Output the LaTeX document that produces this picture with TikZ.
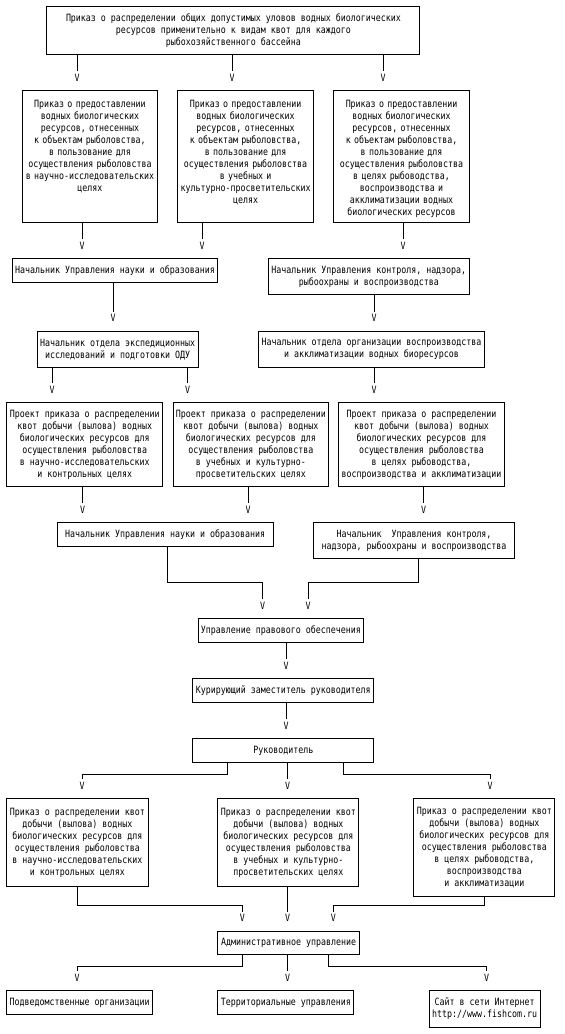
\documentclass[tikz,border=0pt]{standalone}
\usepackage{fontspec}
\newfontfamily\dmono[FakeStretch=0.83]{DejaVu Sans Mono}
\newcommand\diagfont{\dmono\fontsize{10}{12}\selectfont}
\begin{document}
\begin{tikzpicture}[x=1pt,y=-1pt,
  bx/.style={draw, line width=1pt, inner sep=0pt, align=center, anchor=north west, font=\diagfont},
  ln/.style={line width=1pt, shorten >=19pt},
  vm/.style={font=\diagfont, inner sep=0pt, anchor=base, yshift=9pt}]
\useasboundingbox (0,0) rectangle (565,1034);

% row 1
\node[bx, minimum width=373pt, minimum height=48pt] (T) at (46.4,6)
 {Приказ о распределении общих допустимых уловов водных биологических\\ресурсов применительно к видам квот для каждого\\рыбохозяйственного бассейна};

% row 2
\node[bx, minimum width=135.5pt, text width=134pt, text height=16.5pt, text depth=115.8pt] (A) at (21.7,90)
 {Приказ о предоставлении\\водных биологических\\ресурсов, отнесенных\\к объектам рыболовства,\\в пользование для\\осуществления рыболовства\\в научно-исследовательских\\целях};
\node[bx, minimum width=135.8pt, text width=134pt, text height=16.5pt, text depth=115.8pt] (B) at (177.2,90)
 {Приказ о предоставлении\\водных биологических\\ресурсов, отнесенных\\к объектам рыболовства,\\в пользование для\\осуществления рыболовства\\в учебных и\\культурно-просветительских\\целях};
\node[bx, minimum width=135.5pt, text width=134pt, text height=16.5pt, text depth=115.8pt] (C) at (333.3,90)
 {Приказ о предоставлении\\водных биологических\\ресурсов, отнесенных\\к объектам рыболовства,\\в пользование для\\осуществления рыболовства\\в целях рыбоводства,\\воспроизводства и\\акклиматизации водных\\биологических ресурсов};

% row 3
\node[bx, minimum width=205.8pt, minimum height=24pt] (N1) at (11.6,258.3)
 {Начальник Управления науки и образования};
\node[bx, minimum width=201pt, minimum height=35.7pt] (N2) at (267.8,258.3)
 {Начальник Управления контроля, надзора,\\рыбоохраны и воспроизводства};

% row 4
\node[bx, minimum width=161.2pt, minimum height=36pt] (D1) at (36.6,330.7)
 {Начальник отдела экспедиционных\\исследований и подготовки ОДУ};
\node[bx, minimum width=226.8pt, minimum height=36pt] (D2) at (257.6,330.7)
 {Начальник отдела организации воспроизводства\\и акклиматизации водных биоресурсов};

% row 5
\node[bx, minimum width=156.1pt, minimum height=83.7pt] (P1) at (6.2,402.3)
 {Проект приказа о распределении\\квот добычи (вылова) водных\\биологических ресурсов для\\осуществления рыболовства\\в научно-исследовательских\\и контрольных целях};
\node[bx, minimum width=155.8pt, minimum height=83.7pt] (P2) at (172.5,402.3)
 {Проект приказа о распределении\\квот добычи (вылова) водных\\биологических ресурсов для\\осуществления рыболовства\\в учебных и культурно-\\просветительских целях};
\node[bx, minimum width=166pt, minimum height=83.7pt] (P3) at (338,402.3)
 {Проект приказа о распределении\\квот добычи (вылова) водных\\биологических ресурсов для\\осуществления рыболовства\\в целях рыбоводства,\\воспроизводства и акклиматизации};

% row 6
\node[bx, minimum width=216.3pt, minimum height=23.7pt] (U1) at (56.5,522.3)
 {Начальник Управления науки и образования};
\node[bx, minimum width=201.1pt, minimum height=36pt] (U2) at (313,522.3)
 {Начальник\ \ Управления контроля,\\надзора, рыбоохраны и воспроизводства};

% rows 7-9
\node[bx, minimum width=165.9pt, minimum height=24pt] (Prav) at (197.5,618.3)
 {Управление правового обеспечения};
\node[bx, minimum width=180.8pt, minimum height=24pt] (Kur) at (192.4,678.3)
 {Курирующий заместитель руководителя};
\node[bx, minimum width=180.8pt, minimum height=24pt] (Ruk) at (192.4,738.3)
 {Руководитель};

% row 10
\node[bx, minimum width=141.3pt, minimum height=87.4pt] (Q1) at (6.2,798.3)
 {Приказ о распределении квот\\добычи (вылова) водных\\биологических ресурсов для\\осуществления рыболовства\\в научно-исследовательских\\и контрольных целях};
\node[bx, minimum width=140.9pt, minimum height=87.4pt] (Q2) at (217.4,798.3)
 {Приказ о распределении квот\\добычи (вылова) водных\\биологических ресурсов для\\осуществления рыболовства\\в учебных и культурно-\\просветительских целях};
\node[bx, minimum width=140.9pt, minimum height=97.7pt] (Q3) at (413.4,798.3)
 {Приказ о распределении квот\\добычи (вылова) водных\\биологических ресурсов для\\осуществления рыболовства\\в целях рыбоводства,\\воспроизводства\\и акклиматизации};

% row 11
\node[bx, minimum width=141.3pt, minimum height=23.6pt] (Adm) at (217.4,930.7)
 {Административное управление};

% row 12
\node[bx, minimum width=146pt, minimum height=24.3pt] (S1) at (6.2,990)
 {Подведомственные организации};
\node[bx, minimum width=135.9pt, minimum height=24.3pt] (S2) at (217.4,990)
 {Территориальные управления};
\node[bx, minimum width=110.9pt, minimum height=36.7pt] (S3) at (428.6,990)
 {Сайт в сети Интернет\\http://www.fishcom.ru};

% connectors
\draw[ln] (T.south -| 77,0) -- (A.north -| 77,0) node[vm]{V};
\draw[ln] (T.south -| 232,0) -- (B.north -| 232,0) node[vm]{V};
\draw[ln] (T.south -| 383,0) -- (C.north -| 383,0) node[vm]{V};

\draw[ln] (A.south -| 82,0) -- (N1.north -| 82,0) node[vm]{V};
\draw[ln] (B.south -| 202,0) -- (N1.north -| 202,0) node[vm]{V};
\draw[ln] (C.south -| 403,0) -- (N2.north -| 403,0) node[vm]{V};

\draw[ln] (N1.south -| 113,0) -- (D1.north -| 113,0) node[vm]{V};
\draw[ln] (N2.south -| 374,0) -- (D2.north -| 374,0) node[vm]{V};

\draw[ln] (D1.south -| 52,0) -- (P1.north -| 52,0) node[vm]{V};
\draw[ln] (D1.south -| 187.5,0) -- (P2.north -| 187.5,0) node[vm]{V};
\draw[ln] (D2.south -| 374,0) -- (P3.north -| 374,0) node[vm]{V};

\draw[ln] (P1.south -| 82.6,0) -- (U1.north -| 82.6,0) node[vm]{V};
\draw[ln] (P2.south -| 248,0) -- (U1.north -| 248,0) node[vm]{V};
\draw[ln] (P3.south -| 423.6,0) -- (U2.north -| 423.6,0) node[vm]{V};

\draw[ln] (U1.south -| 167.4,0) |- (262.7,582) -- (Prav.north -| 262.7,0) node[vm]{V};
\draw[ln] (U2.south -| 418.8,0) |- (308,582) -- (Prav.north -| 308,0) node[vm]{V};

\draw[ln] (Prav.south -| 286,0) -- (Kur.north -| 286,0) node[vm]{V};
\draw[ln] (Kur.south -| 286,0) -- (Ruk.north -| 286,0) node[vm]{V};

\draw[ln] (Ruk.south -| 227.5,0) |- (82,774) -- (Q1.north -| 82,0) node[vm]{V};
\draw[ln] (Ruk.south -| 287.5,0) -- (Q2.north -| 287.5,0) node[vm]{V};
\draw[ln] (Ruk.south -| 343,0) |- (490,774) -- (Q3.north -| 490,0) node[vm]{V};

\draw[ln] (Q1.south -| 77,0) |- (242.4,905.7) -- (Adm.north -| 242.4,0) node[vm]{V};
\draw[ln] (Q2.south -| 287.5,0) -- (Adm.north -| 287.5,0) node[vm]{V};
\draw[ln] (Q3.south -| 484,0) |- (333.3,905.7) -- (Adm.north -| 333.3,0) node[vm]{V};

\draw[ln] (Adm.south -| 242.4,0) |- (77,966) -- (S1.north -| 77,0) node[vm]{V};
\draw[ln] (Adm.south -| 287.5,0) -- (S2.north -| 287.5,0) node[vm]{V};
\draw[ln] (Adm.south -| 328.3,0) |- (486.6,966) -- (S3.north -| 486.6,0) node[vm]{V};
\end{tikzpicture}
\end{document}
